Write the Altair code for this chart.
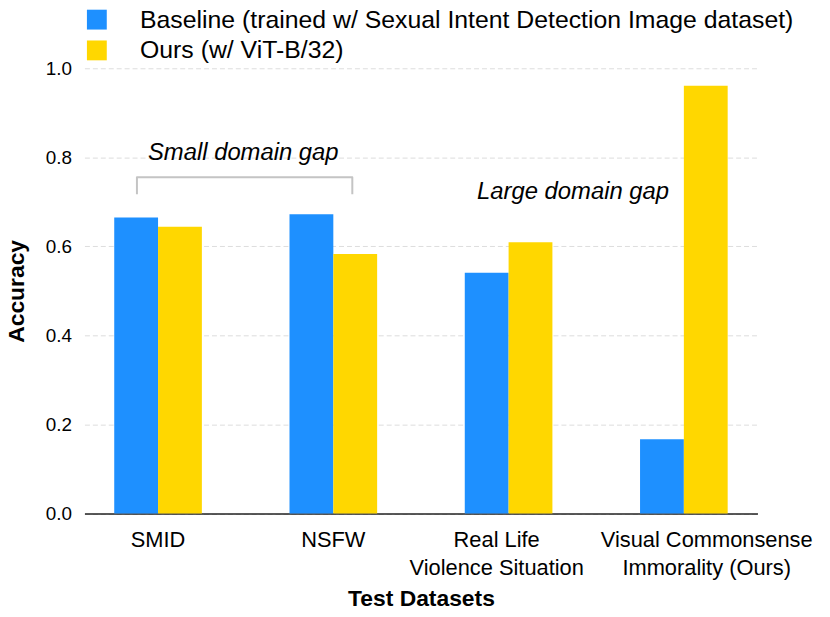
import altair as alt
import pandas as pd

# ---- data ----
categories = ["SMID", "NSFW", "Real Life|Violence Situation", "Visual Commonsense|Immorality (Ours)"]
series_names = ["Baseline (trained w/ Sexual Intent Detection Image dataset)", "Ours (w/ ViT-B/32)"]
baseline_acc = [0.665, 0.672, 0.541, 0.167]
ours_acc = [0.644, 0.583, 0.609, 0.961]
colors = ["#1E90FF", "#FFD700"]
y_ticks = [0.0, 0.2, 0.4, 0.6, 0.8, 1.0]

# annotations (x as fraction of plot width, y in accuracy units)
annot_text = ["Small domain gap", "Large domain gap"]
annot_x = [0.236, 0.726]
annot_y = [0.810, 0.721]
bracket_x = [0.078, 0.078, 0.398, 0.398]
bracket_y = [0.717, 0.755, 0.755, 0.717]

FONT = "Liberation Sans"

rows = []
for c, b, o in zip(categories, baseline_acc, ours_acc):
    rows.append({"dataset": c, "series": series_names[0], "acc": b})
    rows.append({"dataset": c, "series": series_names[1], "acc": o})
df = pd.DataFrame(rows)

ann_df = pd.DataFrame({"x": annot_x, "acc": annot_y, "t": annot_text})
br_df = pd.DataFrame({"x": bracket_x, "acc": bracket_y, "i": list(range(len(bracket_x)))})

yscale = alt.Scale(domain=[0, 1], nice=False)
xfrac = alt.Scale(domain=[0, 1], nice=False, zero=False)

bars = alt.Chart(df).mark_bar().encode(
    x=alt.X(
        "dataset:N",
        sort=categories,
        scale=alt.Scale(paddingInner=0.5, paddingOuter=0.17),
        axis=alt.Axis(
            title="Test Datasets",
            labelAngle=0,
            labelExpr="split(datum.label, '|')",
            labelFont=FONT,
            labelFontSize=22,
            labelLineHeight=28,
            labelBaseline="middle",
            labelPadding=26,
            labelColor="black",
            labelLimit=0,
            labelOverlap=False,
            labelOffset={
                "condition": [
                    {"test": "indexof(datum.value, 'Visual') == 0", "value": 23},
                    {"test": "indexof(datum.value, 'Real') == 0", "value": -12},
                ],
                "value": 0,
            },
            ticks=False,
            grid=False,
            domainColor="#222222",
            domainWidth=1.5,
            titleFont=FONT,
            titleFontSize=23,
            titleFontWeight="bold",
            titleColor="black",
            titlePadding=10,
        ),
    ),
    xOffset=alt.XOffset("series:N", sort=series_names, scale=alt.Scale(paddingInner=0, paddingOuter=0)),
    y=alt.Y(
        "acc:Q",
        scale=yscale,
        axis=alt.Axis(
            title="Accuracy",
            values=y_ticks,
            format=".1f",
            grid=True,
            gridDash=[5, 3],
            gridColor="#dddddd",
            gridWidth=1,
            domain=False,
            ticks=False,
            labelFont=FONT,
            labelFontSize=19,
            labelColor="black",
            labelPadding=13,
            titleFont=FONT,
            titleFontSize=23,
            titleFontWeight="bold",
            titleColor="black",
            titlePadding=17,
        ),
    ),
    color=alt.Color(
        "series:N",
        sort=series_names,
        scale=alt.Scale(domain=series_names, range=colors),
        legend=alt.Legend(
            title=None,
            orient="none",
            legendX=0,
            legendY=-61.5,
            direction="vertical",
            symbolType="square",
            symbolSize=400,
            symbolStrokeWidth=0,
            labelFont=FONT,
            labelFontSize=25,
            labelColor="black",
            labelOffset=31,
            labelLimit=0,
            rowPadding=5,
            padding=0,
        ),
    ),
)

bracket = alt.Chart(br_df).mark_line(color="#c4c4c4", strokeWidth=2, strokeJoin="round").encode(
    x=alt.X("x:Q", scale=xfrac, axis=None),
    y=alt.Y("acc:Q", scale=yscale, axis=None),
    order="i:O",
)

texts = alt.Chart(ann_df).mark_text(
    font=FONT, fontSize=24, fontStyle="italic", color="black", baseline="middle", align="center"
).encode(
    x=alt.X("x:Q", scale=xfrac, axis=None),
    y=alt.Y("acc:Q", scale=yscale, axis=None),
    text="t:N",
)

chart = (
    alt.layer(bars, bracket, texts)
    .resolve_scale(x="independent")
    .resolve_axis(x="independent", y="independent")
    .properties(
        width=678,
        height=448.5,
        autosize=alt.AutoSizeParams(type="none"),
        padding={"left": 77, "top": 58.5, "right": 65, "bottom": 94},
    )
    .configure_view(stroke=None)
)

chart.save("out.html", embed_options={"renderer": "svg", "actions": False})
